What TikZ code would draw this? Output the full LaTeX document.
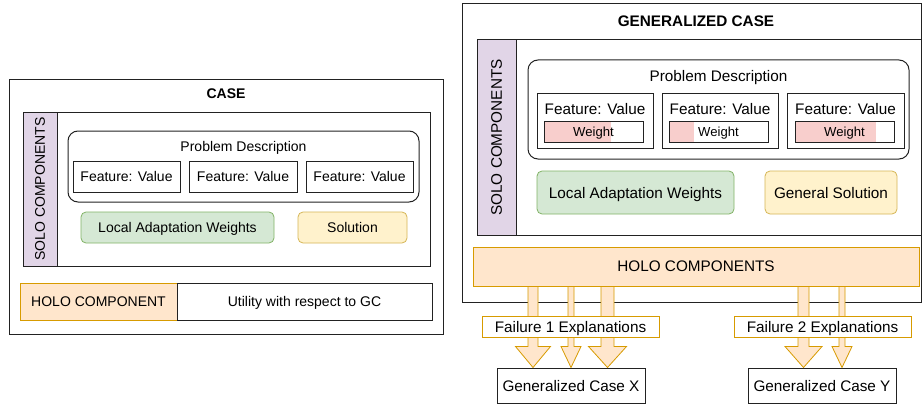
\documentclass[tikz,border=0pt]{standalone}
\usepackage{fontspec}
\setmainfont{Liberation Sans}
\usetikzlibrary{calc}
\definecolor{dk}{HTML}{222222}
\definecolor{holofill}{HTML}{FFE6CC}
\definecolor{holodraw}{HTML}{D79B00}
\definecolor{grfill}{HTML}{D5E8D4}
\definecolor{grdraw}{HTML}{82B366}
\definecolor{yefill}{HTML}{FFF2CC}
\definecolor{yedraw}{HTML}{D6B656}
\definecolor{pufill}{HTML}{E1D5E7}
\definecolor{pkfill}{HTML}{F8CECC}
\newcommand\fsA{\fontsize{14}{16}\selectfont}
\newcommand\fsB{\fontsize{15.3}{17}\selectfont}
\newcommand\fsW{\fontsize{13.1}{15}\selectfont}
\pgfdeclarelayer{fg}
\pgfsetlayers{main,fg}
\tikzset{
  every node/.style={text depth=0pt},
  bx/.style={rectangle, draw=dk, line width=1pt, inner sep=0pt, fill=white},
  sz/.style 2 args={minimum width=#1pt, minimum height=#2pt},
  rbx/.style={bx, rounded corners=10pt},
  grbox/.style={rectangle, rounded corners=5pt, draw=grdraw, fill=grfill, line width=0.8pt, inner sep=0pt},
  yebox/.style={rectangle, rounded corners=5pt, draw=yedraw, fill=yefill, line width=0.8pt, inner sep=0pt},
  pubox/.style={rectangle, draw=dk, fill=pufill, line width=1pt, inner sep=0pt},
  hobox/.style={rectangle, draw=holodraw, fill=holofill, line width=0.8pt, inner sep=0pt},
  fabox/.style={rectangle, draw=holodraw, fill=white, line width=0.8pt, inner sep=0pt},
  txt/.style={inner sep=0pt},
  blk/.style={draw=holodraw, fill=holofill, line width=0.8pt, line join=miter},
  wfill/.style={path picture={\fill[pkfill] (path picture bounding box.north west) rectangle ($(path picture bounding box.south west)!#1!(path picture bounding box.south east)$);}},
  wbar/.style={bx, sz={99}{21}, font=\fsW, wfill=#1},
}
\newcommand\blkarrow[5]{%
  \path[blk] let \p1=(#4.south), \p2=(#5.north) in
   ({#1pt-#2pt},{\y1}) -- ({#1pt+#2pt},{\y1}) -- ({#1pt+#2pt},{\y2+21pt}) -- ({#1pt+#3pt},{\y2+21pt})
   -- ({#1pt},{\y2}) -- ({#1pt-#3pt},{\y2+21pt}) -- ({#1pt-#2pt},{\y2+21pt}) -- cycle;}
\begin{document}
\begin{tikzpicture}[x=1pt,y=-1pt]
\useasboundingbox (0,0) rectangle (923,404);
% ---------------- left: CASE
\node[bx, sz={434}{255}] (case) at (226,206.5) {};
\node[txt, font=\fsA\bfseries] (casettl) at (226,94) {CASE};
\node[bx, sz={373}{154}] (solol) at (243.5,189) {};
\node[pubox, sz={34}{154}] (stripl) at (40,189) {};
\node[txt, font=\fsA, rotate=90] (stripltxt) at (stripl.center) {SOLO COMPONENTS};
\node[rbx, sz={351}{71}] (pdl) at (243.5,166.5) {};
\node[txt, font=\fsA] (pdltxt) at (243.5,146) {Problem Description};
\node[bx, sz={107}{31}, font=\fsA] (fl1) at (126.5,176.5) {Feature: Value};
\node[bx, sz={108}{31}, font=\fsA] (fl2) at (243,176.5) {Feature: Value};
\node[bx, sz={107}{31}, font=\fsA] (fl3) at (359.5,176.5) {Feature: Value};
\node[grbox, sz={193}{31}, font=\fsA] (lawl) at (177.5,227.5) {Local Adaptation Weights};
\node[yebox, sz={109}{31}, font=\fsA] (soll) at (352.5,227.5) {Solution};
\node[hobox, sz={157}{37}, font=\fsA] (holol) at (98.5,301.5) {HOLO COMPONENT};
\node[bx, sz={255}{37}, font=\fsA] (util) at (304.5,301.5) {Utility with respect to GC};
% ---------------- right: GENERALIZED CASE
\node[bx, sz={459}{298}] (gc) at (691.5,153) {};
\node[txt, font=\fsB\bfseries] (gcttl) at (696,21) {GENERALIZED CASE};
\node[bx, sz={405}{195}] (solor) at (718.5,137.5) {};
\node[pubox, sz={39}{195}] (stripr) at (496.5,137.5) {};
\node[txt, font=\fsB, rotate=90] (striprtxt) at (stripr.center) {SOLO COMPONENTS};
\node[rbx, sz={381}{99}] (pdr) at (718.5,109.5) {};
\node[txt, font=\fsB] (pdrtxt) at (718.5,76) {Problem Description};
\node[bx, sz={116}{55}] (fr1) at (595,120.5) {};
\node[bx, sz={116}{55}] (fr2) at (720,120.5) {};
\node[bx, sz={117}{55}] (fr3) at (845.5,120.5) {};
\node[txt, font=\fsB] (fr1t) at (595,109) {Feature: Value};
\node[txt, font=\fsB] (fr2t) at (720,109) {Feature: Value};
\node[txt, font=\fsB] (fr3t) at (845.5,109) {Feature: Value};
\node[wbar=0.677] (w1) at (593.5,131.5) {Weight};
\node[wbar=0.253] (w2) at (718.5,131.5) {Weight};
\node[wbar=0.818] (w3) at (844.5,131.5) {Weight};
\node[grbox, sz={197}{43}, font=\fsB] (lawr) at (635.5,192.5) {Local Adaptation Weights};
\node[yebox, sz={132}{43}, font=\fsB] (gsol) at (831,192.5) {General Solution};
% holo and outputs
\begin{pgfonlayer}{fg}
\node[hobox, sz={446}{39}, font=\fsB] (holor) at (696,266.5) {HOLO COMPONENTS};
\node[fabox, sz={177}{21}, font=\fsB] (f1) at (570.5,326.5) {Failure 1 Explanations};
\node[fabox, sz={177}{21}, font=\fsB] (f2) at (822.5,326.5) {Failure 2 Explanations};
\end{pgfonlayer}
\node[bx, sz={148}{35}, font=\fsB] (gcx) at (571,385.5) {Generalized Case X};
\node[bx, sz={148}{35}, font=\fsB] (gcy) at (822,385.5) {Generalized Case Y};
\blkarrow{533}{5}{17.5}{holor}{gcx}
\blkarrow{571}{3}{10}{holor}{gcx}
\blkarrow{607.5}{6.5}{19}{holor}{gcx}
\blkarrow{803.5}{5.5}{18.5}{holor}{gcy}
\blkarrow{842}{3}{10}{holor}{gcy}
\end{tikzpicture}
\end{document}
